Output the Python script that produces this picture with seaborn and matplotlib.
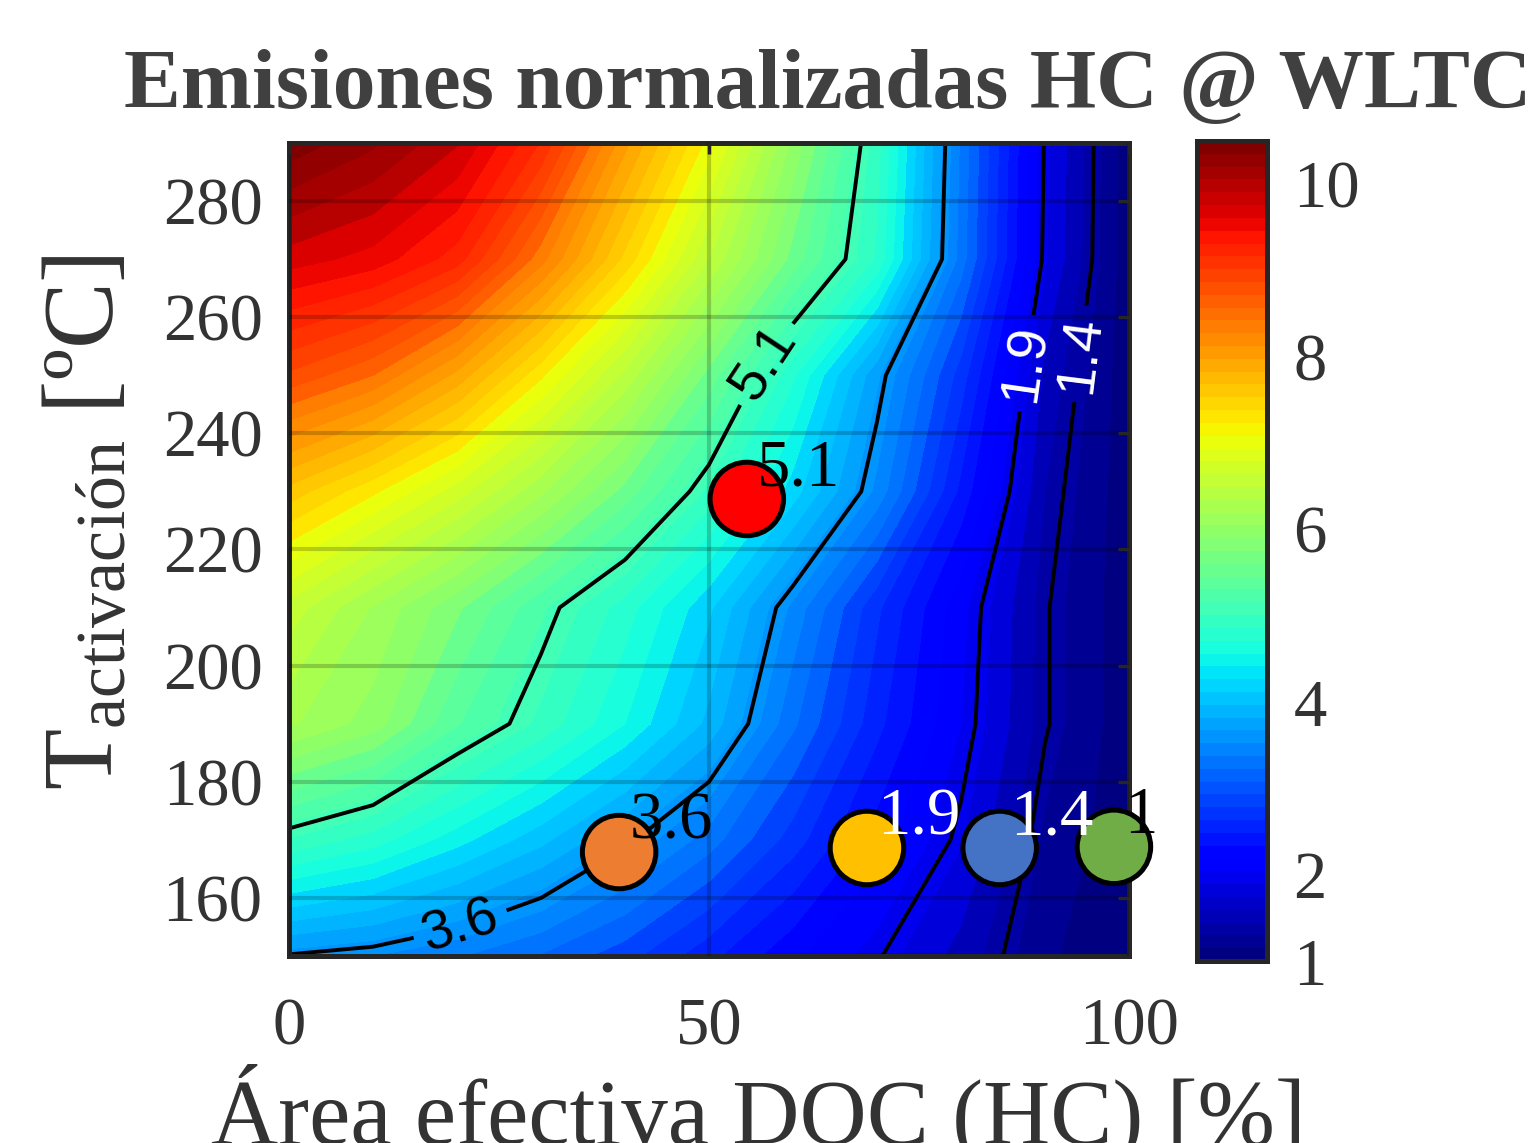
import numpy as np
import matplotlib
matplotlib.use('Agg')
import matplotlib.pyplot as plt
import seaborn as sns
from matplotlib.colors import Normalize
from matplotlib.cm import ScalarMappable

# Rejilla de datos (área efectiva DOC [%] x temperatura de activación [ºC])
area = [0, 10, 20, 30, 40, 50, 60, 70, 80, 90, 100]
temp = [150, 170, 190, 210, 230, 250, 270, 290]

# Emisiones normalizadas HC por fila de temperatura
hc_150 = [3.58, 3.50, 3.35, 3.15, 2.90, 2.55, 2.20, 1.92, 1.60, 1.20, 1.00]
hc_170 = [4.98, 4.75, 4.40, 4.05, 3.65, 3.25, 2.75, 2.25, 1.85, 1.30, 1.05]
hc_190 = [6.20, 5.92, 5.35, 4.95, 4.50, 3.95, 3.20, 2.55, 2.00, 1.42, 1.05]
hc_210 = [6.60, 6.15, 5.70, 5.20, 4.75, 4.20, 3.45, 2.70, 2.05, 1.42, 1.05]
hc_230 = [7.60, 7.20, 6.75, 6.20, 5.60, 4.95, 4.25, 3.45, 2.45, 1.50, 1.05]
hc_250 = [8.80, 8.50, 7.95, 7.20, 6.45, 5.60, 4.70, 3.70, 2.75, 1.62, 1.05]
hc_270 = [9.75, 9.60, 9.25, 8.40, 7.45, 6.50, 5.60, 4.80, 3.25, 1.85, 1.05]
hc_290 = [10.45, 10.20, 9.85, 9.15, 8.05, 7.10, 5.95, 4.90, 3.30, 1.88, 1.05]

niveles_linea = [1.4, 1.9, 3.6, 5.1]

# Casos marcados
caso_area = [39.3, 54.5, 68.8, 84.6, 98.2]
caso_temp = [167.9, 228.7, 168.6, 168.6, 168.8]
caso_valor = ['3.6', '5.1', '1.9', '1.4', '1']
caso_color = ['#ED7D31', '#FF0000', '#FFC000', '#4472C4', '#70AD47']
caso_texto = ['black', 'black', 'white', 'white', 'black']

sns.set_theme(style='white')
plt.rcParams['font.family'] = ['Liberation Serif', 'DejaVu Serif']
plt.rcParams['mathtext.fontset'] = 'custom'
plt.rcParams['mathtext.rm'] = 'Liberation Serif'
plt.rcParams['mathtext.it'] = 'Liberation Serif:italic'

gris = '#333333'
X, Y = np.meshgrid(area, temp)
Z = np.array([hc_150, hc_170, hc_190, hc_210, hc_230, hc_250, hc_270, hc_290])

jet = plt.get_cmap('jet', 64)
norma = Normalize(vmin=1, vmax=10.5)

fig = plt.figure(figsize=(15.33, 11.43), dpi=100)
ax = fig.add_axes([0.1885, 0.1636, 0.548, 0.7113])

ax.contourf(X, Y, Z, levels=np.linspace(1, 10.5, 58), cmap=jet, norm=norma, zorder=0)
cs = ax.contour(X, Y, Z, levels=niveles_linea, colors='black', linewidths=2.8, zorder=2)
etiquetas = ax.clabel(cs, fmt='%.1f', fontsize=40, inline_spacing=14,
                      colors=['white', 'white', 'black', 'black'],
                      manual=[(88.2, 252), (94.2, 253.7), (56.7, 252), (20.4, 155.3)])
for t in etiquetas:
    t.set_family('Liberation Sans')

sns.scatterplot(x=caso_area, y=caso_temp, hue=caso_valor,
                palette=dict(zip(caso_valor, caso_color)), s=2800,
                edgecolor='black', linewidth=3.6, legend=False, ax=ax, zorder=5,
                clip_on=False)
for xa, yt, val, ct in zip(caso_area, caso_temp, caso_valor, caso_texto):
    ax.text(xa + 1.2, yt + 2.4, val, color=ct, fontsize=48, ha='left', va='baseline',
            zorder=6, clip_on=False)

ax.set_xlim(0, 100)
ax.set_ylim(150, 290)
ax.set_xticks([0, 50, 100])
ax.set_yticks([160, 180, 200, 220, 240, 260, 280])
ax.set_axisbelow(False)
ax.grid(True, color='black', alpha=0.2, linewidth=3)
ax.tick_params(direction='in', length=8, width=2.5, colors='#262626', labelcolor=gris,
               labelsize=48, top=True, right=True)
ax.tick_params(axis='x', pad=30)
ax.tick_params(axis='y', pad=19)
for sp in ax.spines.values():
    sp.set_color('#262626')
    sp.set_linewidth(3.6)

cax = fig.add_axes([0.781, 0.1592, 0.0455, 0.7174])
cb = fig.colorbar(ScalarMappable(norm=norma, cmap=jet), cax=cax)
cb.set_ticks([1, 2, 4, 6, 8, 10])
cb.ax.tick_params(direction='in', length=8, width=2.5, colors='#262626', labelcolor=gris,
                  labelsize=48, pad=19)
cb.outline.set_edgecolor('#262626')
cb.outline.set_linewidth(3.6)

fig.text(0.540, 0.9055, 'Emisiones normalizadas HC @ WLTC', fontsize=61.5, fontweight='bold',
         color='#404040', ha='center', va='baseline')
fig.text(0.495, 0.0, 'Área efectiva DOC (HC) [%]', fontsize=67, color=gris,
         ha='center', va='baseline')
fig.text(0.058, 0.543, 'T$_{\\mathrm{activación}}$ [ºC]', fontsize=72, color=gris,
         rotation=90, ha='center', va='center')

fig.savefig('out.png', dpi=100)
